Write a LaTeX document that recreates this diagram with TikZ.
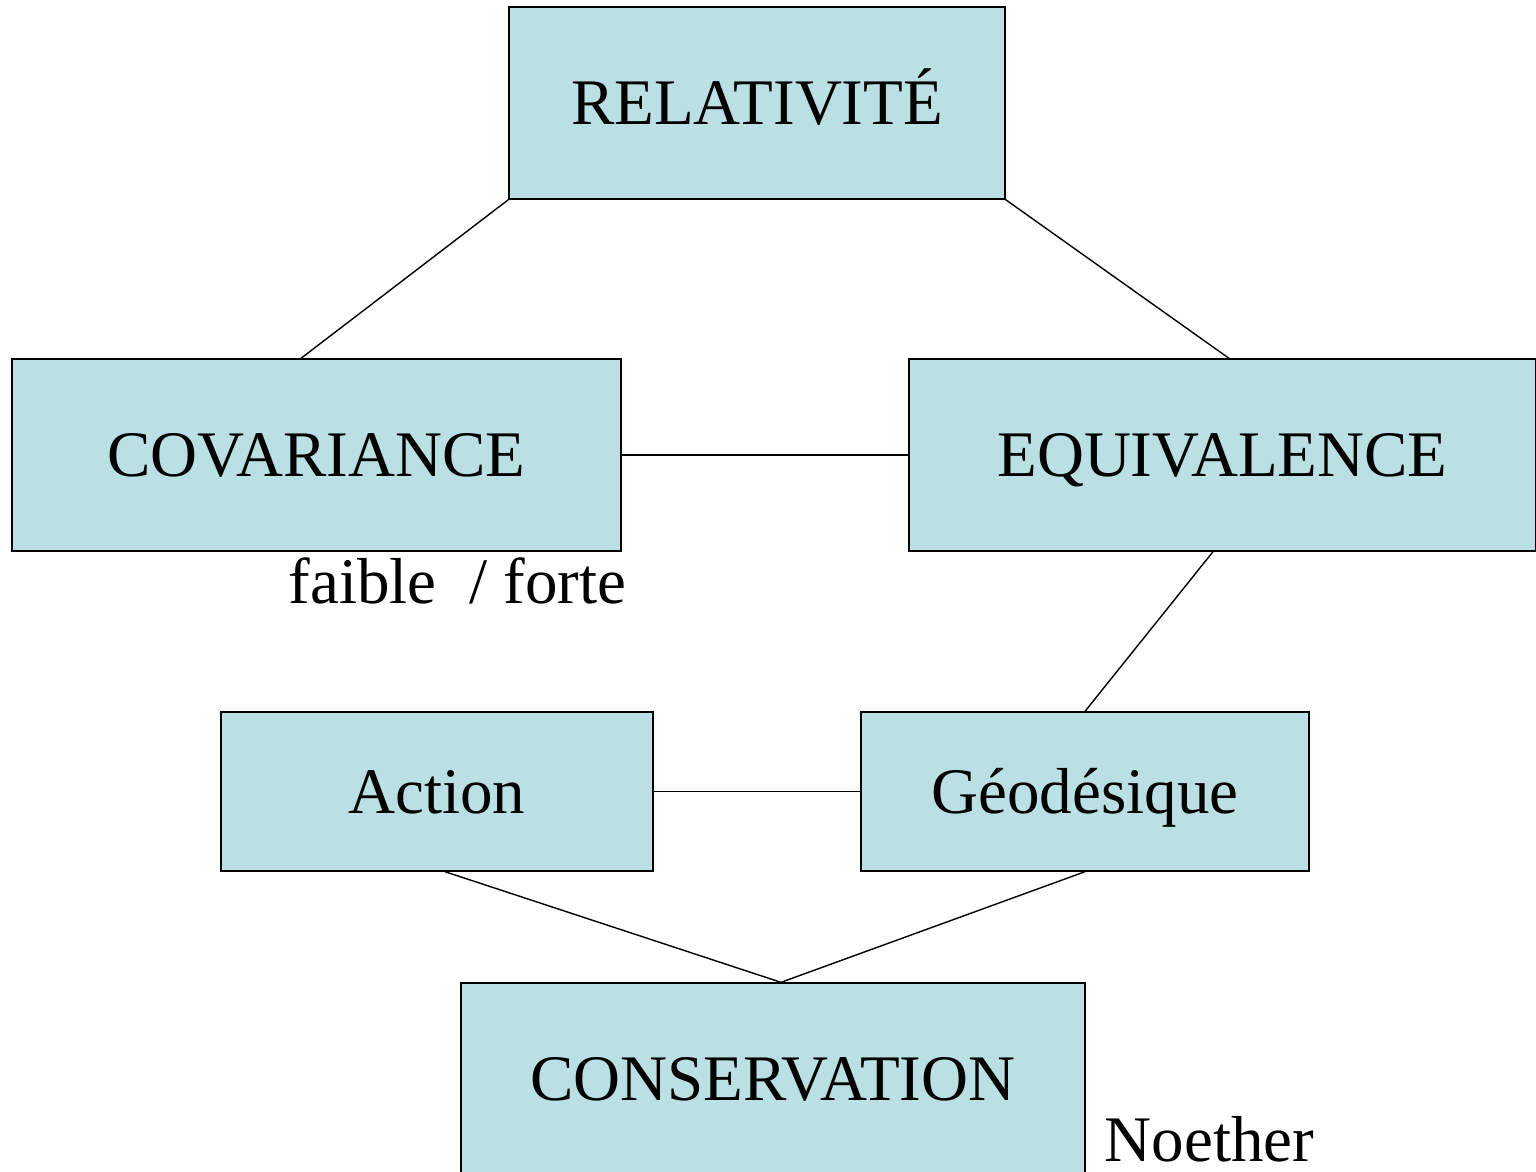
\documentclass[tikz,border=0pt]{standalone}
\usepackage{fontspec}
\setmainfont{Liberation Serif}
\definecolor{boxfill}{RGB}{187,224,227}
\tikzset{concept/.style={draw,fill=boxfill,line width=0.8pt,inner sep=0pt,text height=24.5pt,text depth=0pt},
	note/.style={anchor=base west,inner sep=0pt,text depth=0pt}}
\begin{document}
\begin{tikzpicture}[x=0.02cm,y=-0.02cm,font=\fontsize{37}{44}\selectfont,line width=0.8pt]
	\useasboundingbox (0,0) rectangle (1536,1171);
	\node[concept,minimum width=9.92cm,minimum height=3.84cm] (rel) at (757,103) {RELATIVITÉ};
	\node[concept,minimum width=12.18cm,minimum height=3.84cm] (cov) at (316.5,455) {COVARIANCE};
	\node[concept,minimum width=12.54cm,minimum height=3.84cm] (equ) at (1222.5,455) {EQUIVALENCE};
	\node[concept,minimum width=8.64cm,minimum height=3.18cm] (act) at (437,791.5) {Action};
	\node[concept,minimum width=8.96cm,minimum height=3.18cm] (geo) at (1085,791.5) {Géodésique};
	\node[concept,minimum width=12.48cm,minimum height=3.84cm] (cons) at (773,1079) {CONSERVATION};
	\node[note] (wk) at (288,603) {faible\ \ / forte};
	\node[note] (noe) at (1104,1161) {Noether};
	\draw (rel.south west) -- ([xshift=-0.31cm]cov.north);
	\draw (rel.south east) -- ([xshift=0.13cm]equ.north);
	\draw (cov.east) -- (equ.west);
	\draw ([xshift=-0.19cm]equ.south) -- (geo.north);
	\draw (act.east) -- (geo.west);
	\draw ([xshift=0.16cm]act.south) -- ([xshift=0.16cm]cons.north);
	\draw (geo.south) -- ([xshift=0.16cm]cons.north);
\end{tikzpicture}
\end{document}
